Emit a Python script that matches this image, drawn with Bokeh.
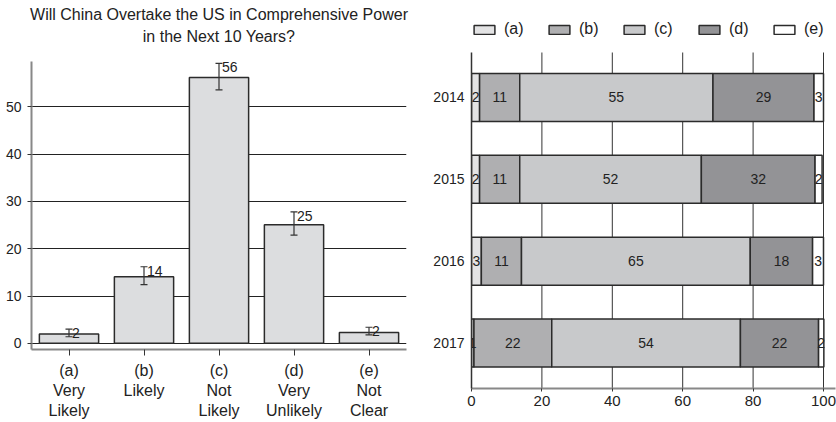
from bokeh.plotting import figure
from bokeh.models import (ColumnDataSource, FixedTicker, Whisker, TeeHead, Legend,
                          LegendItem, Range1d, LabelSet, Title)
from bokeh.layouts import row
from bokeh.embed import file_html
from bokeh.resources import INLINE
from bokeh.core.properties import value

FONT = "Liberation Sans"

# ---------------- Left chart data ----------------
title_lines = ["Will China Overtake the US in Comprehensive Power", "in the Next 10 Years?"]
options = ["(a)\nVery\nLikely", "(b)\nLikely", "(c)\nNot\nLikely",
           "(d)\nVery\nUnlikely", "(e)\nNot\nClear"]
shares = [2.0, 14.1, 56.2, 25.1, 2.3]
share_labels = ["2", "14", "56", "25", "2"]
err_low = [1.4, 12.4, 53.6, 22.9, 1.8]
err_high = [3.0, 16.2, 59.2, 27.8, 3.4]
y_ticks_left = [0, 10, 20, 30, 40, 50]

# ---------------- Right chart data ----------------
years = ["2014", "2015", "2016", "2017"]
seg_a = [2.3, 2.3, 2.8, 0.7]
seg_b = [11.4, 11.4, 11.4, 22.1]
seg_c = [54.9, 51.6, 65.0, 53.6]
seg_d = [28.7, 32.3, 17.7, 22.2]
seg_e = [2.7, 2.0, 3.1, 1.5]
legend_labels = ["(a)", "(b)", "(c)", "(d)", "(e)"]
x_ticks_right = [0, 20, 40, 60, 80, 100]

TEXT = "#222222"
EDGE = "#2b2b2b"

# ================= Left figure =================
xs = list(range(len(options)))
src1 = ColumnDataSource(dict(x=xs, top=shares, lab=share_labels, lo=err_low, hi=err_high))

Y0, Y1 = -1.3, 59.6
p1 = figure(width=420, height=422, x_range=Range1d(-0.5, 4.5), y_range=Range1d(Y0, Y1),
            output_backend="svg", toolbar_location=None,
            min_border_left=31, min_border_right=14, min_border_top=61, min_border_bottom=69)
p1.frame_align = False
p1.outline_line_color = None

p1.vbar(x='x', top='top', bottom=0, width=0.79, source=src1,
        fill_color="#dcdddf", line_color=EDGE, line_width=1.5)

wh = Whisker(base='x', upper='hi', lower='lo', source=src1, dimension='height',
             line_color="#333333", line_width=1.2, level="overlay",
             upper_head=TeeHead(size=7, line_color="#333333", line_width=1.2),
             lower_head=TeeHead(size=7, line_color="#333333", line_width=1.2))
p1.add_layout(wh)

p1.add_layout(LabelSet(x='x', y='hi', text='lab', source=src1, x_offset=3, y_offset=-4,
                       text_align='left', text_baseline='middle', text_font=value(FONT),
                       text_font_size=value('14px'), text_color=value(TEXT)))

# title lines in the "above" panel: first added sits next to the frame
p1.add_layout(Title(text=" ", text_font_size="10px", standoff=0), "above")
p1.add_layout(Title(text=title_lines[1], align="center", text_font=FONT,
                    text_font_size="16px", text_font_style="normal", text_color=TEXT,
                    standoff=7), "above")
p1.add_layout(Title(text=title_lines[0], align="center", text_font=FONT,
                    text_font_size="16px", text_font_style="normal", text_color=TEXT,
                    standoff=0), "above")

p1.yaxis.ticker = FixedTicker(ticks=y_ticks_left)
p1.yaxis.axis_line_color = "#888888"
p1.yaxis.axis_line_width = 2
p1.yaxis.major_tick_out = 4
p1.yaxis.major_tick_in = 0
p1.yaxis.major_tick_line_color = "#333333"
p1.yaxis.minor_tick_line_color = None
p1.yaxis.major_label_text_font = FONT
p1.yaxis.major_label_text_font_size = "14px"
p1.yaxis.major_label_text_color = TEXT
p1.yaxis.major_label_standoff = 6

p1.xaxis.ticker = FixedTicker(ticks=xs)
p1.xaxis.major_label_overrides = {i: lab for i, lab in zip(xs, options)}
p1.xaxis.axis_line_color = "#888888"
p1.xaxis.axis_line_width = 2
p1.xaxis.major_tick_out = 6
p1.xaxis.major_tick_in = 0
p1.xaxis.major_tick_line_color = "#333333"
p1.xaxis.minor_tick_line_color = None
p1.xaxis.major_label_text_font = FONT
p1.xaxis.major_label_text_font_size = "16px"
p1.xaxis.major_label_text_color = TEXT
p1.xaxis.major_label_standoff = 6
p1.xaxis.major_label_text_line_height = 1.2

p1.xgrid.visible = False
p1.ygrid.ticker = FixedTicker(ticks=y_ticks_left)
p1.ygrid.grid_line_color = "#222222"
p1.ygrid.grid_line_width = 1

# ================= Right figure =================
ys = [3, 2, 1, 0]
keys = ['a', 'b', 'c', 'd', 'e']
segs = [seg_a, seg_b, seg_c, seg_d, seg_e]
src2 = ColumnDataSource(dict(y=ys, a=seg_a, b=seg_b, c=seg_c, d=seg_d, e=seg_e))

Y_BOT, Y_AX_TOP = -0.555, 3.549
PXU = (388 - 52) / (Y_AX_TOP - Y_BOT)          # pixels per category step
Y_TOP = Y_AX_TOP + 32 / PXU                    # room above the axis for the legend
X_END = 100 + 12 / 3.52                        # bottom axis line runs past 100

p2 = figure(width=416, height=422, x_range=Range1d(0, X_END), y_range=Range1d(Y_BOT, Y_TOP),
            output_backend="svg", toolbar_location=None,
            min_border_left=51, min_border_right=1, min_border_top=20, min_border_bottom=34)
p2.frame_align = False
p2.outline_line_color = None

# vertical grid lines, limited to the axis height
p2.segment(x0=x_ticks_right[1:], y0=[Y_BOT] * 5, x1=x_ticks_right[1:], y1=[Y_AX_TOP] * 5,
           line_color="#333333", line_width=1)

fills = ["#e3e3e4", "#afafb1", "#c8c9cb", "#939396", "#ffffff"]
rs = p2.hbar_stack(keys, y='y', height=0.585, fill_color=fills, line_color=EDGE,
                   line_width=1.5, source=src2)

lx, ly, lt = [], [], []
for i, yv in enumerate(ys):
    left = 0.0
    for seg in segs:
        v = seg[i]
        lx.append(left + v / 2.0)
        ly.append(yv)
        lt.append(str(int(v + 0.5)))
        left += v
p2.text(x=lx, y=ly, text=lt, text_align='center', text_baseline='middle',
        text_font=value(FONT), text_font_size='14px', text_color=TEXT)

legend = Legend(items=[LegendItem(label=l, renderers=[r]) for l, r in zip(legend_labels, rs)],
                orientation="horizontal", location="top_left",
                glyph_width=26, glyph_height=11, label_standoff=7, spacing=22,
                padding=5, margin=0, border_line_color=None, background_fill_alpha=0,
                label_text_font=FONT, label_text_font_size="16px", label_text_color=TEXT,
                label_height=18)
p2.add_layout(legend)

p2.yaxis.ticker = FixedTicker(ticks=ys)
p2.yaxis.bounds = (Y_BOT, Y_AX_TOP)
p2.yaxis.major_label_overrides = {y: yr for y, yr in zip(ys, years)}
p2.yaxis.axis_line_color = "#333333"
p2.yaxis.axis_line_width = 1.5
p2.yaxis.major_tick_out = 0
p2.yaxis.major_tick_in = 0
p2.yaxis.minor_tick_line_color = None
p2.yaxis.major_label_text_font = FONT
p2.yaxis.major_label_text_font_size = "14px"
p2.yaxis.major_label_text_color = TEXT
p2.yaxis.major_label_standoff = 7

p2.xaxis.ticker = FixedTicker(ticks=x_ticks_right)
p2.xaxis.axis_line_color = "#888888"
p2.xaxis.axis_line_width = 2
p2.xaxis.major_tick_out = 3
p2.xaxis.major_tick_in = 0
p2.xaxis.major_tick_line_color = "#333333"
p2.xaxis.minor_tick_line_color = None
p2.xaxis.major_label_text_font = FONT
p2.xaxis.major_label_text_font_size = "15px"
p2.xaxis.major_label_text_color = TEXT
p2.xaxis.major_label_standoff = 4

p2.xgrid.visible = False
p2.ygrid.visible = False

layout = row(p1, p2)
open("out.html", "w").write(file_html(layout, INLINE))
